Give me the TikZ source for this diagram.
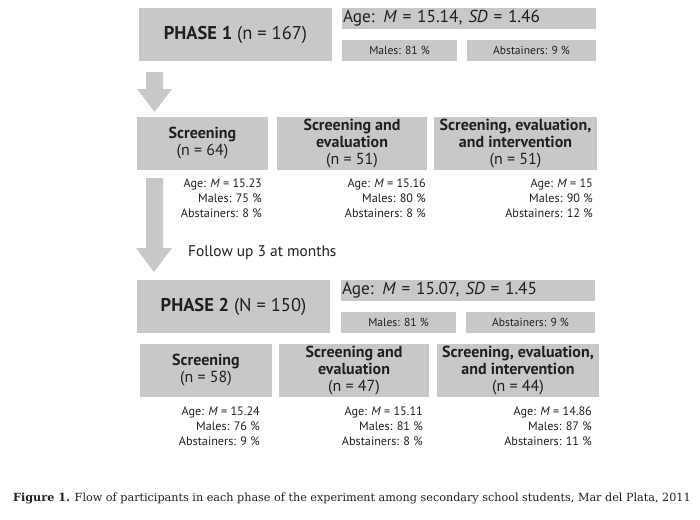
\documentclass[tikz,border=0pt]{standalone}
\usepackage{fontspec}
\setmainfont{PT Sans}
\newfontfamily\capfont{DejaVu Serif}
\definecolor{boxgray}{HTML}{C8C8C8}
\definecolor{ink}{HTML}{231F20}
\begin{document}
\begin{tikzpicture}[x=1pt,y=-1pt,
  box/.style={fill=boxgray, draw=none, inner sep=0pt, text=ink, align=center},
  phasetxt/.style={font=\fontsize{18.5}{22}\selectfont},
  agebox/.style={box, minimum height=21pt, text width=252pt, align=left, inner xsep=1pt, font=\fontsize{17.3}{21}\selectfont},
  smallbox/.style={box, minimum height=21pt, font=\fontsize{11.6}{13}\selectfont},
  groupbox/.style={box, minimum height=53pt, font=\fontsize{16}{17}\selectfont},
  stat/.style={inner sep=0pt, align=right, anchor=north east, text=ink, font=\fontsize{12.2}{14.8}\selectfont},
  bigarrow/.style={fill=boxgray, draw=none}]
\useasboundingbox (0,0) rectangle (700,519);
\fill[white] (0,0) rectangle (700,519);

% Phase 1
\node[box, phasetxt, minimum width=193pt, minimum height=53pt] (p1) at (235.5,34.5) {\textbf{PHASE 1} (n = 167)};
\node[agebox, minimum width=254pt] (a1) at (469,18.5) {Age: \textit{M} = 15.14, \textit{SD} = 1.46};
\node[smallbox, minimum width=115pt] (m1) at (399.5,50.5) {Males: 81 \%};
\node[smallbox, minimum width=129pt] (ab1) at (531.5,50.5) {Abstainers: 9 \%};

% arrow 1
\fill[bigarrow] (146,72) -- (163,72) -- (163,89) -- (172,89) -- (154.5,112) -- (137,89) -- (146,89) -- cycle;

% groups phase 1
\node[groupbox, minimum width=131pt] (g11) at (202.5,143.5) {\textbf{Screening}\\(n = 64)};
\node[groupbox, minimum width=150pt] (g12) at (352,143.5) {\textbf{Screening and}\\\textbf{evaluation}\\(n = 51)};
\node[groupbox, minimum width=163pt] (g13) at (515.5,143.5) {\textbf{Screening, evaluation,}\\\textbf{and intervention}\\(n = 51)};

\node[stat] (s11) at (262,179) {Age: \textit{M} = 15.23\\Males: 75 \%\\Abstainers: 8 \%};
\node[stat] (s12) at (426,179) {Age: \textit{M} = 15.16\\Males: 80 \%\\Abstainers: 8 \%};
\node[stat] (s13) at (593,179) {Age: \textit{M} = 15\\Males: 90 \%\\Abstainers: 12 \%};

% arrow 2
\fill[bigarrow] (146,178) -- (163,178) -- (163,248) -- (172,248) -- (154,272) -- (136,248) -- (146,248) -- cycle;
\node[anchor=base west, inner sep=0pt, text=ink, font=\fontsize{15.4}{17}\selectfont] (fu) at (188,256) {Follow up 3 at months};

% Phase 2
\node[box, phasetxt, minimum width=193pt, minimum height=53pt] (p2) at (233.5,306.5) {\textbf{PHASE 2} (N = 150)};
\node[agebox, minimum width=254pt] (a2) at (468,290.5) {Age: \textit{M} = 15.07, \textit{SD} = 1.45};
\node[smallbox, minimum width=115pt] (m2) at (398.5,322.5) {Males: 81 \%};
\node[smallbox, minimum width=129pt] (ab2) at (530.5,322.5) {Abstainers: 9 \%};

\node[groupbox, minimum width=132pt] (g21) at (206,370.5) {\textbf{Screening}\\(n = 58)};
\node[groupbox, minimum width=150pt] (g22) at (354,370.5) {\textbf{Screening and}\\\textbf{evaluation}\\(n = 47)};
\node[groupbox, minimum width=162pt] (g23) at (518,370.5) {\textbf{Screening, evaluation,}\\\textbf{and intervention}\\(n = 44)};

\node[stat] (s21) at (260,407) {Age: \textit{M} = 15.24\\Males: 76 \%\\Abstainers: 9 \%};
\node[stat] (s22) at (423,407) {Age: \textit{M} = 15.11\\Males: 81 \%\\Abstainers: 8 \%};
\node[stat] (s23) at (592,407) {Age: \textit{M} = 14.86\\Males: 87 \%\\Abstainers: 11 \%};

% caption
\node[anchor=base west, inner sep=0pt, text=ink, font=\capfont\fontsize{11.2}{13}\selectfont] (cap) at (13,501) {\textbf{Figure 1.} Flow of participants in each phase of the experiment among secondary school students, Mar del Plata, 2011};
\end{tikzpicture}
\end{document}
